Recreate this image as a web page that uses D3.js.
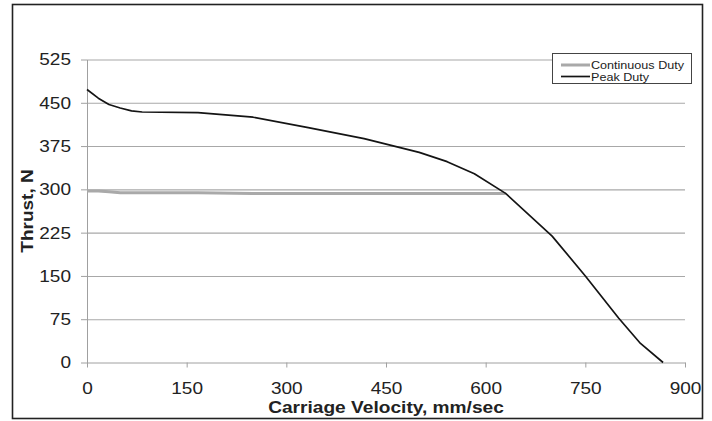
<!DOCTYPE html>
<html>
<head>
<meta charset="utf-8">
<script src="https://cdn.jsdelivr.net/npm/d3@7/dist/d3.min.js"></script>
<style>
  html, body { margin: 0; padding: 0; background: #fff; }
  svg { display: block; }
  text { font-family: "Liberation Sans", Arial, sans-serif; fill: #222; }
</style>
</head>
<body>
<svg id="chart" width="712" height="421"></svg>
<script>
// ---- data ----
const seriesNames = ["Continuous Duty", "Peak Duty"];
const peakVelocity = [0, 17, 33, 50, 67, 83, 167, 250, 333, 417, 500, 542, 583, 630, 700, 750, 800, 833, 867];
const peakThrust   = [473, 458, 447, 441, 436, 434, 433, 425, 407, 388, 364, 348, 327, 293, 219, 150, 77, 33, 0];
const contVelocity = [0, 17, 33, 50, 83, 167, 250, 333, 417, 500, 583, 630];
const contThrust   = [297, 297, 296, 294, 294, 294, 293, 293, 293, 293, 293, 293];
const xTicks = [0, 150, 300, 450, 600, 750, 900];
const yTicks = [0, 75, 150, 225, 300, 375, 450, 525];
const xTitle = "Carriage Velocity, mm/sec";
const yTitle = "Thrust, N";

// ---- layout ----
const plotLeft = 87, plotRight = 685, plotTop = 59.5, plotBottom = 362.5;
const stretch = 1.12;
const svg = d3.select("#chart");

svg.append("rect").attr("x", 0).attr("y", 0).attr("width", 712).attr("height", 421).attr("fill", "#fff");
svg.append("rect").attr("x", 12.5).attr("y", 4.5).attr("width", 690).attr("height", 414)
  .attr("fill", "none").attr("stroke", "#222").attr("stroke-width", 1.6);

const x = d3.scaleLinear().domain([0, 900]).range([plotLeft, plotRight]);
const y = d3.scaleLinear().domain([0, 525]).range([plotBottom, plotTop]);

// grid
svg.append("g").attr("transform", `translate(${plotLeft},0)`)
  .call(d3.axisLeft(y).tickValues(yTicks.filter(d => d > 0)).tickSize(-(plotRight - plotLeft)).tickFormat(""))
  .call(g => g.select(".domain").remove())
  .call(g => g.selectAll("line").attr("stroke", "#a8a8a8").attr("stroke-width", 1.1));

// y axis
svg.append("g").attr("transform", `translate(${plotLeft},0)`)
  .call(d3.axisLeft(y).tickValues(yTicks).tickSize(6).tickSizeOuter(0))
  .call(g => g.select(".domain").attr("stroke", "#a0a0a0"))
  .call(g => g.selectAll("line").attr("stroke", "#a0a0a0"))
  .call(g => g.selectAll("text")
    .attr("x", -16 / stretch)
    .attr("transform", `scale(${stretch},1)`)
    .style("font-size", "17px").attr("fill", "#222"));

// x axis
svg.append("g").attr("transform", `translate(0,${plotBottom})`)
  .call(d3.axisBottom(x).tickValues(xTicks).tickSize(5).tickSizeOuter(0).tickPadding(14.5))
  .call(g => g.select(".domain").attr("stroke", "#a0a0a0"))
  .call(g => g.selectAll("line").attr("stroke", "#a0a0a0"))
  .call(g => g.selectAll("text")
    .attr("transform", `scale(${stretch},1)`)
    .style("font-size", "17px").attr("fill", "#222"));

// titles
svg.append("text")
  .attr("transform", `translate(${(plotLeft + plotRight) / 2},413) scale(1.16,1)`)
  .attr("text-anchor", "middle").style("font-size", "16.5px").style("font-weight", "bold")
  .text(xTitle);
svg.append("text")
  .attr("transform", `translate(32.5,${(plotTop + plotBottom) / 2}) rotate(-90) scale(${stretch},1)`)
  .attr("text-anchor", "middle").style("font-size", "17px").style("font-weight", "bold")
  .text(yTitle);

// lines
const line = d3.line().x(d => x(d[0])).y(d => y(d[1]));
const contData = contVelocity.map((v, i) => [v, contThrust[i]]);
const peakData = peakVelocity.map((v, i) => [v, peakThrust[i]]);
const colors = ["#a9a9a9", "#141414"];
const widths = [3, 1.7];

svg.append("path").datum(contData).attr("d", line)
  .attr("fill", "none").attr("stroke", colors[0]).attr("stroke-width", widths[0]);
svg.append("path").datum(peakData).attr("d", line)
  .attr("fill", "none").attr("stroke", colors[1]).attr("stroke-width", widths[1])
  .attr("stroke-linejoin", "round");

// legend
const lg = svg.append("g");
lg.append("rect").attr("x", 552.5).attr("y", 53.5).attr("width", 139).attr("height", 30)
  .attr("fill", "#fff").attr("stroke", "#444").attr("stroke-width", 1);
seriesNames.forEach((name, i) => {
  const ly = 65 + i * 11.5;
  lg.append("line").attr("x1", 561).attr("x2", 590).attr("y1", ly).attr("y2", ly)
    .attr("stroke", colors[i]).attr("stroke-width", widths[i]);
  lg.append("text")
    .attr("transform", `translate(591,${69 + i * 11.5}) scale(1.2,1)`)
    .style("font-size", "10.5px").text(name);
});
</script>
</body>
</html>
